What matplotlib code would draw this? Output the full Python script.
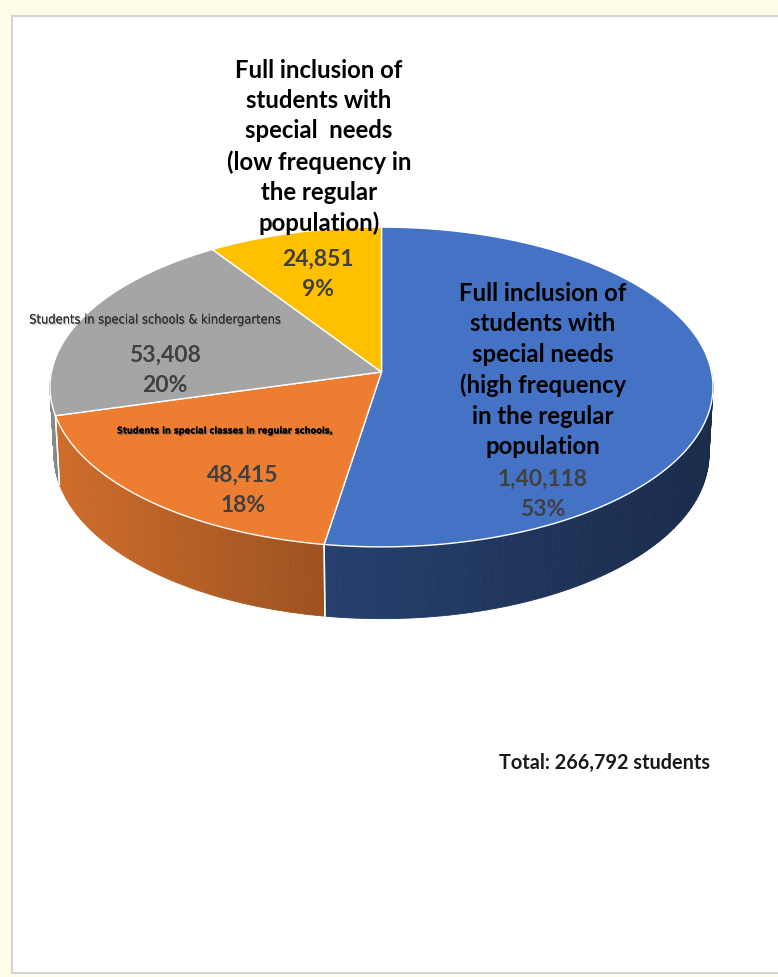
import os
import numpy as np
import matplotlib
matplotlib.use("Agg")
import matplotlib.pyplot as plt
from matplotlib.patches import Polygon, Rectangle
import matplotlib.patheffects as pe
from matplotlib import font_manager
from matplotlib.font_manager import FontProperties

# slices, clockwise from 12 o'clock
categories = [
    "Full inclusion of\nstudents with\nspecial needs\n(high frequency\nin the regular\npopulation",
    "Students in special classes in regular schools,",
    "Students in special schools & kindergartens",
    "Full inclusion of\nstudents with\nspecial  needs\n(low frequency in\nthe regular\npopulation)",
]
values = [140118, 48415, 53408, 24851]
value_text = ["1,40,118", "48,415", "53,408", "24,851"]
total_text = "Total: 266,792 students"

colors = ["#4472C4", "#ED7D31", "#A5A5A5", "#FFC000"]
side_shade = [(0.56, 0.38), (0.87, 0.66), (0.85, 0.75), (0.7, 0.6)]   # left/right brightness of the rim

# label placement (pixels)
cat_pos = [(543, 370), (226, 432), (155, 321), (319, 147)]
val_pos = [(543, 494), (243, 490), (165, 370), (318, 274)]

W, H = 778, 978
CX, CY = 381.5, 373.0      # projected pie centre
ELEV = np.radians(28.7)
DIST = 9.35
FOCAL = 330 * DIST
DEPTH = 0.235


def project(theta, r=1.0, z=0.0):
    """theta measured clockwise from the far side of the disc."""
    X = r * np.sin(theta)
    Y = r * np.cos(theta)
    yc = Y * np.sin(ELEV) + z * np.cos(ELEV)
    zc = DIST + Y * np.cos(ELEV) - z * np.sin(ELEV)
    return CX + FOCAL * X / zc, CY - FOCAL * yc / zc


def find_narrow(bold):
    # look for a narrow / condensed sans face, Liberation first
    picks = []
    for f in font_manager.fontManager.ttflist:
        tag = f.name + " " + os.path.basename(f.fname)
        if "Mono" in tag or "Serif" in tag:
            continue
        if "Narrow" in tag or "Condensed" in tag or f.stretch in ("condensed", "semi-condensed"):
            w = f.weight if isinstance(f.weight, int) else (700 if f.weight == "bold" else 400)
            if (w >= 600) == bold and "Oblique" not in tag and "Italic" not in tag:
                picks.append((0 if "Liberation" in tag else 1, f.fname))
    if picks:
        return FontProperties(fname=sorted(picks)[0][1])
    return FontProperties(family="Liberation Sans", weight="bold" if bold else "normal")


fig = plt.figure(figsize=(W / 100, H / 100), dpi=100)
fig.patch.set_facecolor("#FFFDE8")
ax = fig.add_axes([0, 0, 1, 1])
ax.set_xlim(0, W)
ax.set_ylim(H, 0)
ax.axis("off")
renderer = fig.canvas.get_renderer()

ax.add_patch(Rectangle((12.5, 16.5), W, 957, facecolor="white",
                       edgecolor="#D4D4D4", lw=1.5, zorder=0))

fracs = np.array(values) / sum(values)
bounds = np.concatenate([[0], np.cumsum(fracs)]) * 2 * np.pi


def shade(c, k):
    rgb = np.array(matplotlib.colors.to_rgb(c))
    return tuple(np.clip(rgb * k, 0, 1))


# rim: only the front half (pi/2 .. 3pi/2) can be seen
for i, c in enumerate(colors):
    a0 = max(bounds[i], np.pi / 2)
    a1 = min(bounds[i + 1], 3 * np.pi / 2)
    if a1 <= a0:
        continue
    ts = np.linspace(a0, a1, 80)
    xt, yt = project(ts)
    xb, yb = project(ts, z=-DEPTH)
    xl, xr = xt.min(), xt.max()
    kl, kr = side_shade[i]
    for j in range(len(ts) - 1):
        xm = 0.5 * (xt[j] + xt[j + 1])
        k = kl + (kr - kl) * (xm - xl) / max(xr - xl, 1)
        quad = [(xt[j], yt[j]), (xt[j + 1], yt[j + 1]),
                (xb[j + 1], yb[j + 1]), (xb[j], yb[j])]
        col = shade(c, k)
        ax.add_patch(Polygon(quad, closed=True, facecolor=col, edgecolor=col,
                             lw=0.6, zorder=2))
    # white seams at slice boundaries on the rim
    for a in (a0, a1):
        if np.pi / 2 < a < 3 * np.pi / 2:
            x0, y0 = project(a)
            x1, y1 = project(a, z=-DEPTH)
            ax.plot([x0, x1], [y0, y1], color="white", lw=1.0, zorder=3)

# top faces
for i, c in enumerate(colors):
    ts = np.linspace(bounds[i], bounds[i + 1], 200)
    xs, ys = project(ts)
    pts = [(CX, CY)] + list(zip(xs, ys))
    ax.add_patch(Polygon(pts, closed=True, facecolor=c, edgecolor="white",
                         lw=1.0, joinstyle="round", zorder=4))


def fit_width(t, target):
    # shrink or grow a one-line label until it spans the given pixel width
    w = t.get_window_extent(renderer).width
    t.set_fontsize(t.get_fontsize() * target / w)


# labels
for i in (0, 3):
    ax.text(*cat_pos[i], categories[i], ha="center", va="center", fontsize=17.2,
            fontweight="bold", family="Lato", color="black", linespacing=1.39, zorder=6)

t_orange = ax.text(*cat_pos[1], categories[1], ha="center", va="center",
                   fontproperties=find_narrow(True), color="black", zorder=6,
                   path_effects=[pe.withSimplePatchShadow(offset=(1, -1), shadow_rgbFace="#555555", alpha=0.5),
                                 pe.Normal()])
t_orange.set_fontsize(10)
fit_width(t_orange, 215)

t_gray = ax.text(*cat_pos[2], categories[2], ha="center", va="center",
                 fontproperties=find_narrow(False), color="#303030", zorder=6,
                 path_effects=[pe.withSimplePatchShadow(offset=(1, -1), shadow_rgbFace="#777777", alpha=0.4),
                               pe.Normal()])
t_gray.set_fontsize(10.5)
fit_width(t_gray, 255)

for i in range(len(values)):
    pct = f"{round(fracs[i] * 100):.0f}%"
    ax.text(*val_pos[i], f"{value_text[i]}\n{pct}", ha="center", va="center",
            fontsize=16.5, fontweight="bold", family="Lato", color="#404040",
            linespacing=1.55, zorder=6)

ax.text(605, 763, total_text, ha="center", va="center", fontsize=14.3,
        fontweight="bold", family="Lato", color="#1A1A1A", zorder=6)

fig.savefig("out.png", dpi=100, facecolor=fig.get_facecolor())
